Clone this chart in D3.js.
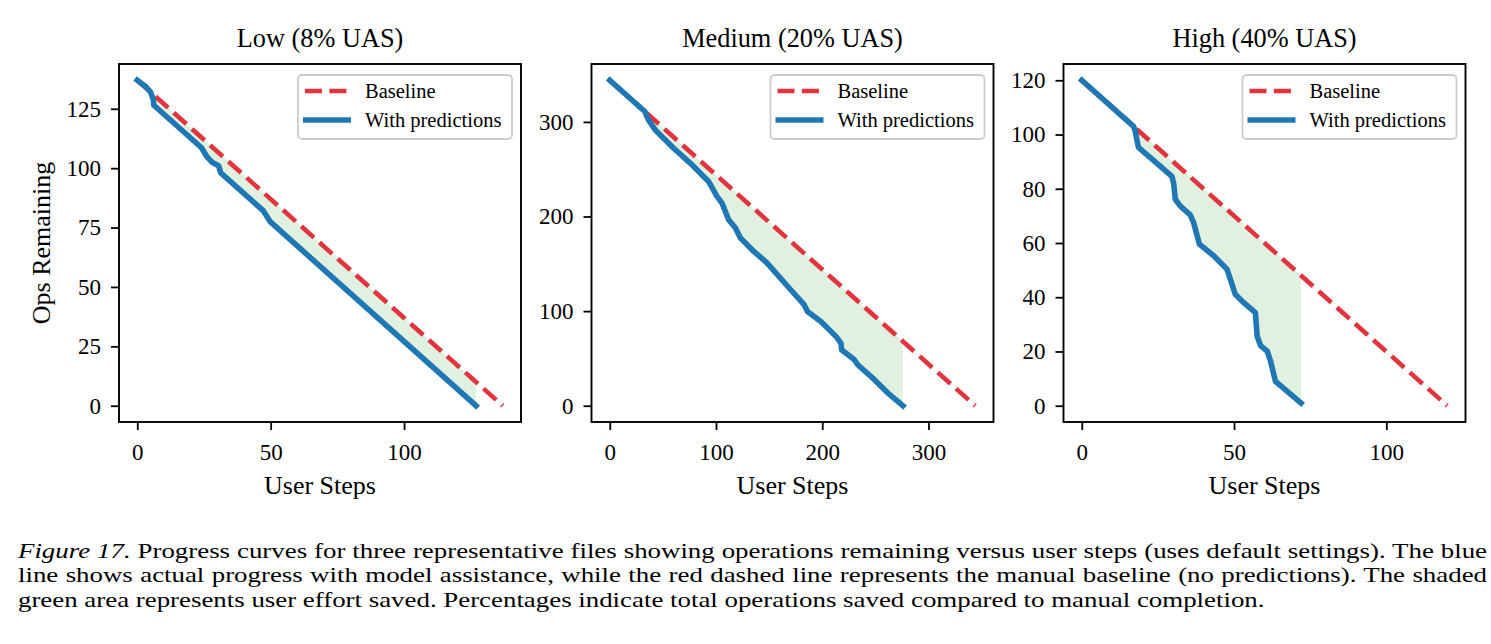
<!DOCTYPE html>
<html>
<head>
<meta charset="utf-8">
<script src="https://cdn.jsdelivr.net/npm/d3@7"></script>
<style>
  html, body { margin: 0; padding: 0; background: #fff; }
  svg text { font-family: "Liberation Serif", "Times New Roman", serif; fill: #000; }
</style>
</head>
<body>
<svg id="chart" width="1491" height="644"></svg>
<script>
// Progress curves: ops remaining vs user steps, three files

const panelTitles = ["Low (8% UAS)", "Medium (20% UAS)", "High (40% UAS)"];
const totalOps = [137, 344, 120];

// manual baseline: one op per step, from totalOps down to zero
const lowBaseline = [[0, 137], [137, 0]];
const medBaseline = [[0, 344], [344, 0]];
const highBaseline = [[0, 120], [120, 0]];

// with predictions
const lowSteps = [0, 3, 5, 6, 6.2, 24, 26, 28, 30.5, 31.3, 47.3, 49.8, 127];
const lowOps   = [137, 134.5, 132, 129, 126.5, 108.7, 105, 102.5, 101, 98, 82, 77.5, 0];

const medSteps = [0, 33, 36.3, 42.6, 59.9, 75.7, 93, 100.9, 105.6, 111.9, 118.3, 123, 135.6, 148.2,
                  157.7, 170.3, 182.9, 186.1, 198.7, 212.9, 217.6, 218.2, 230.2, 233.4, 249.1, 261.8, 276];
const medOps   = [344, 311, 302.3, 291.8, 272.4, 256.5, 237.1, 221.3, 214.2, 196.6, 187.8, 177.2, 163.1, 150.8,
                  138.5, 122.6, 106.8, 99.7, 89.1, 73.3, 66.2, 59.2, 48.6, 43.3, 27.5, 13.4, 0];

const highSteps = [0, 17, 17.5, 18.6, 29.6, 30.2, 30.7, 32.3, 35.6, 36.7, 38.6, 43.3, 47.7, 48.8, 50.4,
                   53.2, 57, 57.6, 58.7, 60.9, 62, 63.6, 72];
const highOps   = [120, 103, 101.5, 95.3, 84.6, 81.8, 76.2, 73.7, 70.4, 67.6, 59.6, 55.3, 50.3, 46.6, 41.1,
                   38, 34.3, 25.6, 22.2, 20.1, 16.4, 9, 1];

const xTicks = [[0, 50, 100], [0, 100, 200, 300], [0, 50, 100]];
const yTicks = [[0, 25, 50, 75, 100, 125], [0, 100, 200, 300], [0, 20, 40, 60, 80, 100, 120]];

const legendLabels = ["Baseline", "With predictions"];

const captionLines = [
  "Progress curves for three representative files showing operations remaining versus user steps (uses default settings). The blue",
  "line shows actual progress with model assistance, while the red dashed line represents the manual baseline (no predictions). The shaded",
  "green area represents user effort saved. Percentages indicate total operations saved compared to manual completion."
];

const panels = [
  { baseline: lowBaseline, steps: lowSteps, ops: lowOps },
  { baseline: medBaseline, steps: medSteps, ops: medOps },
  { baseline: highBaseline, steps: highSteps, ops: highOps }
];

const RED = "#e2343f";
const BLUE = "#1f77b4";
const GREEN = "#2ca02c";
const SERIF = "'Liberation Serif', 'Times New Roman', serif";

const svg = d3.select("#chart");
svg.append("rect").attr("width", 1491).attr("height", 644).attr("fill", "#fff");

const panelLefts = [119, 591.5, 1063.5];
const panelW = 402;
const axTop = 64, axBottom = 422;

panels.forEach((p, i) => {
  const n = totalOps[i];
  const pad = n * 0.05;
  const x = d3.scaleLinear().domain([-pad, n + pad]).range([panelLefts[i], panelLefts[i] + panelW]);
  const y = d3.scaleLinear().domain([-pad, n + pad]).range([axBottom, axTop]);

  const g = svg.append("g");

  // baseline value at any step
  const baseAt = d3.scaleLinear()
    .domain([p.baseline[0][0], p.baseline[1][0]])
    .range([p.baseline[0][1], p.baseline[1][1]]);

  const pts = p.steps.map((s, k) => [s, p.ops[k]]);

  // shaded effort saved
  g.append("path")
    .datum(pts)
    .attr("fill", GREEN)
    .attr("fill-opacity", 0.15)
    .attr("d", d3.area()
      .x(d => x(d[0]))
      .y0(d => y(baseAt(d[0])))
      .y1(d => y(d[1])));

  // baseline
  g.append("path")
    .datum(p.baseline)
    .attr("fill", "none")
    .attr("stroke", RED)
    .attr("stroke-width", 4.6)
    .attr("stroke-dasharray", "17,7.4")
    .attr("d", d3.line().x(d => x(d[0])).y(d => y(d[1])));

  // with predictions
  g.append("path")
    .datum(pts)
    .attr("fill", "none")
    .attr("stroke", BLUE)
    .attr("stroke-width", 5.6)
    .attr("stroke-linejoin", "round")
    .attr("stroke-linecap", "square")
    .attr("d", d3.line().x(d => x(d[0])).y(d => y(d[1])));

  // axes
  const xAxis = g.append("g")
    .attr("transform", `translate(0,${axBottom})`)
    .call(d3.axisBottom(x).tickValues(xTicks[i]).tickFormat(d3.format("d"))
      .tickSize(8).tickSizeOuter(0).tickPadding(14));
  const yAxis = g.append("g")
    .attr("transform", `translate(${panelLefts[i]},0)`)
    .call(d3.axisLeft(y).tickValues(yTicks[i]).tickFormat(d3.format("d"))
      .tickSize(8).tickSizeOuter(0).tickPadding(10));
  [xAxis, yAxis].forEach(a => {
    a.attr("font-family", SERIF).attr("font-size", 23);
    a.select(".domain").remove();
    a.selectAll(".tick line").attr("stroke", "#000").attr("stroke-width", 1.8);
    a.selectAll(".tick text")
      .style("font-family", SERIF).style("font-size", "23px").attr("fill", "#000");
  });

  // frame
  g.append("rect")
    .attr("x", panelLefts[i]).attr("y", axTop)
    .attr("width", panelW).attr("height", axBottom - axTop)
    .attr("fill", "none").attr("stroke", "#000").attr("stroke-width", 1.9);

  // title
  g.append("text")
    .attr("x", panelLefts[i] + panelW / 2).attr("y", 47)
    .attr("text-anchor", "middle").attr("font-size", "26.3px")
    .text(panelTitles[i]);

  // x label
  g.append("text")
    .attr("x", panelLefts[i] + panelW / 2).attr("y", 494)
    .attr("text-anchor", "middle").attr("font-size", "26px")
    .text("User Steps");

  if (i === 0) {
    g.append("text")
      .attr("transform", `translate(50,${(axTop + axBottom) / 2}) rotate(-90)`)
      .attr("text-anchor", "middle").attr("font-size", "26px")
      .text("Ops Remaining");
  }

  // legend
  const lx = panelLefts[i] + panelW - 223, ly = 75;
  const leg = g.append("g").attr("transform", `translate(${lx},${ly})`);
  leg.append("rect")
    .attr("width", 214).attr("height", 64).attr("rx", 4)
    .attr("fill", "#fff").attr("fill-opacity", 0.8)
    .attr("stroke", "#cccccc").attr("stroke-width", 1.8);
  leg.append("line")
    .attr("x1", 7).attr("x2", 50).attr("y1", 16).attr("y2", 16)
    .attr("stroke", RED).attr("stroke-width", 4.6).attr("stroke-dasharray", "17,7.4");
  leg.append("line")
    .attr("x1", 5).attr("x2", 53).attr("y1", 45).attr("y2", 45)
    .attr("stroke", BLUE).attr("stroke-width", 5.6);
  legendLabels.forEach((lab, k) => {
    leg.append("text")
      .attr("x", 67).attr("y", 16 + k * 29 + 7)
      .attr("font-size", "20.5px")
      .text(lab);
  });
});

// caption, fitted to the printed line width
const capX = 18, capRight = 1487, capSize = 22;
const capY = [558, 582.5, 607];
const lastLineWidth = 1247;
const cap = svg.append("g");
const capTexts = captionLines.map((line, k) => {
  const t = cap.append("text")
    .attr("x", 0).attr("y", capY[k])
    .attr("font-size", capSize + "px");
  if (k === 0) {
    t.append("tspan").attr("font-style", "italic").text("Figure 17.");
    t.append("tspan").text(" " + line);
  } else {
    t.text(line);
  }
  return t;
});
const sx = lastLineWidth / capTexts[2].node().getComputedTextLength();
cap.attr("transform", `translate(${capX},0) scale(${sx},1)`);
// justify the first two lines
capTexts.slice(0, 2).forEach((t, k) => {
  const natural = t.node().getComputedTextLength();
  const full = (k === 0 ? "Figure 17. " : "") + captionLines[k];
  const spaces = full.split(" ").length - 1;
  t.attr("word-spacing", ((capRight - capX) / sx - natural) / spaces);
});
</script>
</body>
</html>
